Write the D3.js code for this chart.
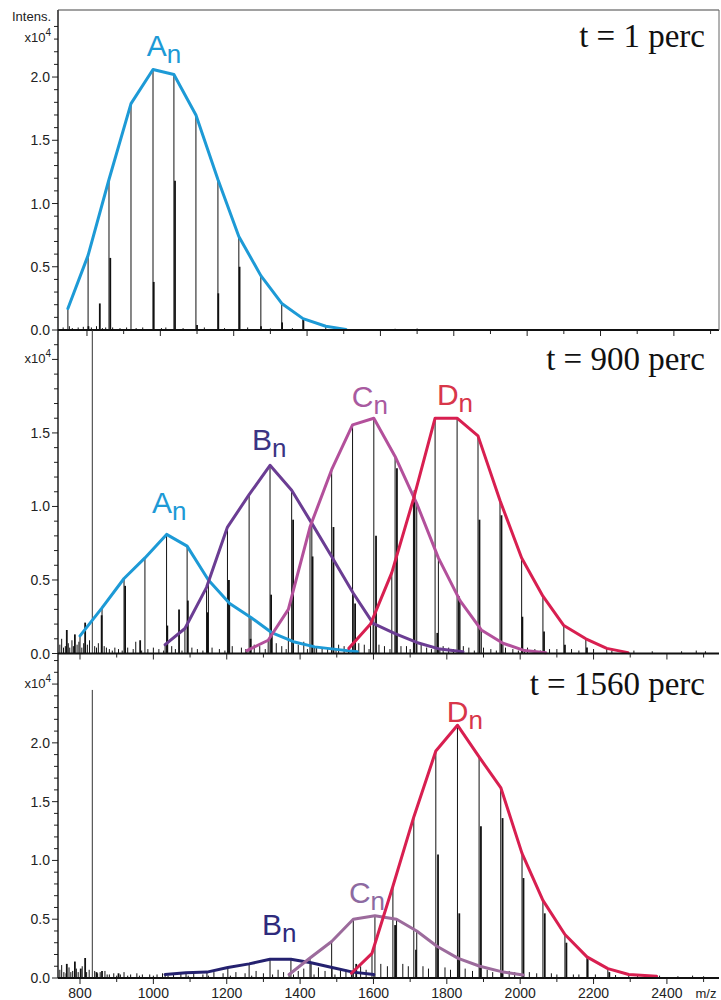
<!DOCTYPE html>
<html>
<head>
<meta charset="utf-8">
<script src="https://cdn.jsdelivr.net/npm/d3@7"></script>
<style>
  body { margin: 0; background: #fff; }
  svg { display: block; }
  text { font-family: "Liberation Sans", Arial, sans-serif; }
  text.run { font-family: "Liberation Serif", "Times New Roman", serif; }
</style>
</head>
<body>
<svg id="chart" width="721" height="1000"></svg>
<script>
// ---------- data (m/z, intensity in units of 10^4) ----------

// t = 1 perc
const p1A_mz  = [748, 803, 860, 920, 980, 1037, 1097, 1157, 1214, 1274, 1331, 1389, 1451, 1506];
const p1A_int = [0.17, 0.59, 1.19, 1.79, 2.06, 2.02, 1.70, 1.19, 0.74, 0.43, 0.21, 0.09, 0.03, 0.005];
const p1Minor = [[804, 0.03], [835, 0.21], [863.5, 0.57], [982, 0.38], [1040, 1.18], [1100, 0.04],
                 [1158, 0.29], [1216, 0.50], [1274.5, 0.03], [1332, 0.06], [1390, 0.08]];
const p1Noise = [[735, 0.02], [752, 0.03], [760, 0.015], [776, 0.02], [790, 0.025], [812, 0.02],
                 [826, 0.03], [842, 0.015], [851, 0.02], [870, 0.02], [890, 0.015], [908, 0.02],
                 [934, 0.015], [952, 0.02], [1003, 0.015], [1015, 0.02], [1062, 0.015], [1120, 0.02],
                 [1175, 0.015], [1238, 0.02], [1300, 0.012], [1360, 0.015], [1478, 0.01],
                 [1640, 0.01], [1700, 0.012]];

// t = 900 perc
const p2A_mz  = [800, 860, 920, 977, 1036, 1092, 1150, 1208, 1266, 1324, 1382, 1440, 1498, 1556];
const p2A_int = [0.12, 0.31, 0.51, 0.65, 0.81, 0.73, 0.50, 0.34, 0.245, 0.14, 0.08, 0.045, 0.028, 0.012];
const p2B_mz  = [1032, 1086, 1145, 1202, 1261, 1318, 1377, 1432, 1486, 1545, 1599, 1659, 1718, 1781, 1844];
const p2B_int = [0.06, 0.17, 0.45, 0.86, 1.08, 1.28, 1.11, 0.885, 0.66, 0.41, 0.205, 0.135, 0.075, 0.03, 0.012];
const p2C_mz  = [1255, 1313, 1368, 1427, 1486, 1543, 1601, 1659, 1718, 1777, 1836, 1894, 1953, 2012, 2070];
const p2C_int = [0.02, 0.09, 0.30, 0.86, 1.25, 1.555, 1.60, 1.34, 1.02, 0.65, 0.36, 0.16, 0.07, 0.02, 0.005];
const p2D_mz  = [1533, 1592, 1650, 1709, 1768, 1828, 1885, 1945, 2004, 2062, 2119, 2179, 2236, 2294];
const p2D_int = [0.035, 0.20, 0.55, 1.05, 1.60, 1.60, 1.48, 1.04, 0.65, 0.39, 0.19, 0.10, 0.035, 0.006];
const p2Calib = [[833.5, 2.4]];
const p2Minor = [[764, 0.16], [786, 0.13], [814, 0.21], [859, 0.26], [923, 0.46], [964, 0.09],
                 [1038, 0.19], [1070, 0.30], [1094, 0.36], [1148, 0.28], [1206, 0.50], [1265, 0.10],
                 [1321, 0.40], [1381, 0.91], [1434, 0.66], [1491, 0.86], [1550, 0.34], [1607, 0.80],
                 [1664, 1.26], [1712, 1.11], [1774, 0.14], [1833, 0.39], [1889, 0.91], [1949, 0.94],
                 [2006, 0.25], [2065, 0.15], [2122, 0.06], [2182, 0.04]];
const p2Noise = [[745, 0.06], [750, 0.10], [755, 0.04], [760, 0.05], [768, 0.07], [772, 0.04],
                 [778, 0.09], [782, 0.05], [792, 0.06], [797, 0.08], [805, 0.04], [810, 0.07],
                 [820, 0.06], [826, 0.09], [840, 0.05], [845, 0.04], [850, 0.07], [866, 0.05],
                 [872, 0.04], [880, 0.03], [888, 0.02], [895, 0.04], [905, 0.03], [915, 0.02],
                 [930, 0.04], [945, 0.03], [952, 0.08], [968, 0.02], [985, 0.03], [1000, 0.04],
                 [1015, 0.03], [1028, 0.02], [1050, 0.05], [1060, 0.03], [1078, 0.02], [1105, 0.04],
                 [1120, 0.03], [1135, 0.02], [1160, 0.04], [1180, 0.03], [1195, 0.02], [1215, 0.05],
                 [1240, 0.04], [1252, 0.03], [1275, 0.06], [1290, 0.05], [1305, 0.03], [1335, 0.07],
                 [1350, 0.05], [1362, 0.03], [1395, 0.06], [1410, 0.08], [1420, 0.03], [1445, 0.05],
                 [1460, 0.04], [1475, 0.03], [1505, 0.06], [1520, 0.05], [1532, 0.03], [1560, 0.07],
                 [1575, 0.06], [1588, 0.03], [1615, 0.06], [1630, 0.05], [1645, 0.03], [1675, 0.05],
                 [1690, 0.05], [1700, 0.03], [1730, 0.06], [1745, 0.04], [1758, 0.03], [1790, 0.05],
                 [1805, 0.04], [1818, 0.03], [1845, 0.05], [1860, 0.04], [1875, 0.02], [1900, 0.04],
                 [1920, 0.03], [1935, 0.02], [1960, 0.04], [1980, 0.03], [1995, 0.02], [2020, 0.04],
                 [2040, 0.03], [2055, 0.02], [2080, 0.03], [2100, 0.03], [2140, 0.03], [2160, 0.02],
                 [2200, 0.03], [2250, 0.02], [2310, 0.02], [2360, 0.015], [2440, 0.015],
                 [2480, 0.02], [2505, 0.015]];

// t = 1560 perc
const p3B_mz  = [1032, 1089, 1146, 1203, 1261, 1318, 1375, 1430, 1487, 1544, 1601];
const p3B_int = [0.03, 0.045, 0.05, 0.09, 0.12, 0.16, 0.16, 0.13, 0.09, 0.05, 0.03];
const p3C_mz  = [1370, 1427, 1486, 1545, 1604, 1663, 1718, 1773, 1831, 1890, 1949, 2008];
const p3C_int = [0.03, 0.17, 0.31, 0.50, 0.53, 0.50, 0.40, 0.27, 0.167, 0.10, 0.054, 0.026];
const p3D_mz  = [1540, 1596, 1653, 1710, 1770, 1829, 1888, 1947, 2005, 2062, 2122, 2182, 2239, 2296, 2372];
const p3D_int = [0.04, 0.21, 0.78, 1.37, 1.93, 2.15, 1.88, 1.62, 1.06, 0.66, 0.37, 0.18, 0.08, 0.03, 0.015];
const p3Calib = [[833.5, 2.45]];
const p3Minor = [[764, 0.12], [786, 0.14], [802, 0.08], [814, 0.17], [845, 0.05], [860, 0.06],
                 [905, 0.04], [1553, 0.12], [1659, 0.45], [1716, 0.24], [1776, 1.05], [1834, 0.55],
                 [1893, 1.29], [1952, 1.36], [2009, 0.85], [2067, 0.55], [2126, 0.30], [2184, 0.16],
                 [2243, 0.05]];
const p3Noise = [[745, 0.07], [750, 0.11], [756, 0.05], [762, 0.04], [770, 0.09], [775, 0.05],
                 [780, 0.06], [790, 0.08], [795, 0.05], [806, 0.10], [818, 0.05], [825, 0.07],
                 [840, 0.06], [848, 0.04], [855, 0.05], [868, 0.06], [874, 0.03], [880, 0.03],
                 [892, 0.04], [900, 0.02], [910, 0.03], [920, 0.05], [930, 0.02], [938, 0.03],
                 [955, 0.04], [962, 0.02], [970, 0.03], [990, 0.03], [1000, 0.02], [1010, 0.03],
                 [1025, 0.04], [1040, 0.02], [1055, 0.03], [1075, 0.04], [1095, 0.02], [1110, 0.04],
                 [1135, 0.03], [1150, 0.02], [1165, 0.05], [1190, 0.04], [1210, 0.02], [1225, 0.05],
                 [1250, 0.04], [1268, 0.02], [1280, 0.06], [1300, 0.04], [1325, 0.03], [1340, 0.07],
                 [1355, 0.05], [1382, 0.03], [1395, 0.06], [1410, 0.08], [1438, 0.03], [1450, 0.09],
                 [1468, 0.06], [1495, 0.03], [1510, 0.08], [1525, 0.07], [1565, 0.10], [1580, 0.07],
                 [1620, 0.12], [1638, 0.10], [1680, 0.12], [1695, 0.10], [1735, 0.10], [1750, 0.08],
                 [1795, 0.09], [1810, 0.07], [1850, 0.08], [1870, 0.06], [1910, 0.07], [1925, 0.05],
                 [1970, 0.06], [1985, 0.05], [2025, 0.05], [2045, 0.04], [2085, 0.04], [2100, 0.03],
                 [2145, 0.03], [2160, 0.03], [2205, 0.03], [2260, 0.025], [2320, 0.02], [2380, 0.02],
                 [2430, 0.015], [2470, 0.02], [2500, 0.015]];

// axis tick labels
const xTickLabels = ["800", "1000", "1200", "1400", "1600", "1800", "2000", "2200", "2400"];
const panelTitles = ["t = 1 perc", "t = 900 perc", "t = 1560 perc"];

// ---------- layout ----------
const plotLeft = 58, plotRight = 719;
const zip = (a, b) => a.map((v, i) => [v, b[i]]);

const panels = [
  { top: 10,  base: 330, yMax: 2.53, mz: [721, 2523], lastLabel: 2.0, title: panelTitles[0], titleY: 47,
    multY: 42, noise: p1Noise, minor: p1Minor, calib: [],
    series: [
      { pts: zip(p1A_mz, p1A_int), line: "#1d9ad6", label: "A", lab: "#1d9ad6", at: [963, 2.17] }
    ] },
  { top: 330, base: 653.5, yMax: 2.2, mz: [740, 2542], lastLabel: 1.5, title: panelTitles[1], titleY: 370,
    multY: 363, noise: p2Noise, minor: p2Minor, calib: p2Calib,
    series: [
      { pts: zip(p2A_mz, p2A_int), line: "#1d9ad6", label: "A", lab: "#1d9ad6", at: [996, 0.956] },
      { pts: zip(p2B_mz, p2B_int), line: "#6b3d93", label: "B", lab: "#3b3483", at: [1269, 1.384] },
      { pts: zip(p2C_mz, p2C_int), line: "#b3509b", label: "C", lab: "#a85aa0", at: [1541, 1.677] },
      { pts: zip(p2D_mz, p2D_int), line: "#d81f50", label: "D", lab: "#d8364a", at: [1773, 1.69] }
    ] },
  { top: 653.5, base: 978, yMax: 2.76, mz: [740, 2542], lastLabel: 2.0, title: panelTitles[2], titleY: 695,
    multY: 688, noise: p3Noise, minor: p3Minor, calib: p3Calib,
    series: [
      { pts: zip(p3B_mz, p3B_int), line: "#24216f", label: "B", lab: "#2e2a7c", at: [1296, 0.366] },
      { pts: zip(p3C_mz, p3C_int), line: "#9c6b9c", label: "C", lab: "#8d6aa1", at: [1533, 0.638] },
      { pts: zip(p3D_mz, p3D_int), line: "#d81f50", label: "D", lab: "#d8364a", at: [1800, 2.179] }
    ] }
];

const svg = d3.select("#chart");

function sticks(g, data, x, y, width, color) {
  g.append("g").selectAll("line").data(data).join("line")
    .attr("x1", d => x(d[0])).attr("x2", d => x(d[0]))
    .attr("y1", y(0)).attr("y2", d => y(d[1]))
    .attr("stroke", color).attr("stroke-width", width);
}

panels.forEach((p, pi) => {
  const x = d3.scaleLinear().domain(p.mz).range([plotLeft, plotRight]);
  const y = d3.scaleLinear().domain([0, p.yMax]).range([p.base, p.top]).clamp(true);
  const g = svg.append("g");

  // spectrum: baseline noise, minor peaks, series peaks
  sticks(g, p.noise, x, y, 1, "#111");
  sticks(g, p.minor, x, y, 1.8, "#111");
  sticks(g, p.calib, x, y, 1, "#333");
  p.series.forEach(s => sticks(g, s.pts, x, y, 1, "#111"));

  // envelopes of each oligomer series
  const line = d3.line().x(d => x(d[0])).y(d => y(d[1]));
  p.series.forEach(s => {
    g.append("path").attr("d", line(s.pts))
      .attr("fill", "none").attr("stroke", s.line)
      .attr("stroke-width", 3).attr("stroke-linejoin", "round").attr("stroke-linecap", "round");
  });

  // series labels with subscript n
  p.series.forEach(s => {
    const t = g.append("text")
      .attr("x", x(s.at[0])).attr("y", y(s.at[1]))
      .attr("fill", s.lab).attr("font-size", 30);
    t.append("tspan").text(s.label);
    t.append("tspan").attr("dy", 7).attr("font-size", 26).text("n");
  });

  // y ticks: minor every 0.1, labelled every 0.5
  const yt = d3.range(0, Math.floor(p.yMax * 10 - 0.5) + 1).map(i => i / 10);
  const ya = g.append("g");
  ya.selectAll("line").data(yt).join("line")
    .attr("x1", d => plotLeft - (Math.round(d * 10) % 5 === 0 ? 6 : 4)).attr("x2", plotLeft)
    .attr("y1", d => y(d)).attr("y2", d => y(d))
    .attr("stroke", "#222").attr("stroke-width", 1);
  ya.selectAll("text").data(yt.filter(d => Math.round(d * 10) % 5 === 0 && d <= p.lastLabel + 1e-9))
    .join("text")
    .attr("x", plotLeft - 8).attr("y", d => y(d)).attr("dy", "0.36em")
    .attr("text-anchor", "end").attr("font-size", 14).attr("fill", "#222")
    .text(d3.format(".1f"));

  // x ticks along the baseline, pointing down
  const xt = d3.range(800, 2501, 100).filter(v => x(v) >= plotLeft && x(v) <= plotRight);
  g.append("g").selectAll("line").data(xt).join("line")
    .attr("x1", d => x(d)).attr("x2", d => x(d))
    .attr("y1", p.base).attr("y2", d => p.base + (d % 200 === 0 ? 6 : 4))
    .attr("stroke", "#222").attr("stroke-width", 1);

  // baseline
  g.append("line").attr("x1", plotLeft).attr("x2", plotRight)
    .attr("y1", p.base).attr("y2", p.base).attr("stroke", "#111").attr("stroke-width", 1.8);

  // x10^4 multiplier
  const mult = g.append("text").attr("x", plotLeft - 7).attr("y", p.multY)
    .attr("text-anchor", "end").attr("font-size", 13).attr("fill", "#222");
  mult.append("tspan").text("x10");
  mult.append("tspan").attr("dy", -6).attr("font-size", 10).text("4");

  // run label
  g.append("text").attr("class", "run").attr("x", 705).attr("y", p.titleY)
    .attr("text-anchor", "end").attr("font-size", 33).attr("fill", "#111").text(p.title);

  // bottom panel: tick labels and unit
  if (pi === 2) {
    g.append("g").selectAll("text").data(xTickLabels).join("text")
      .attr("x", d => x(+d)).attr("y", 998).attr("text-anchor", "middle")
      .attr("font-size", 14).attr("fill", "#222").text(d => d);
    g.append("text").attr("x", 706).attr("y", 998).attr("text-anchor", "middle")
      .attr("font-size", 13).attr("fill", "#222").text("m/z");
  }
});

// frame: left axis line, top and right border of the first panel
svg.append("line").attr("x1", plotLeft).attr("x2", plotLeft).attr("y1", 10).attr("y2", 978)
  .attr("stroke", "#111").attr("stroke-width", 1.4);
svg.append("line").attr("x1", plotLeft).attr("x2", plotRight).attr("y1", 10).attr("y2", 10)
  .attr("stroke", "#444").attr("stroke-width", 1.2);
svg.append("line").attr("x1", plotRight).attr("x2", plotRight).attr("y1", 10).attr("y2", 330)
  .attr("stroke", "#666").attr("stroke-width", 1);

// intensity axis title
svg.append("text").attr("x", 51).attr("y", 21).attr("text-anchor", "end")
  .attr("font-size", 13).attr("fill", "#222").text("Intens.");
</script>
</body>
</html>
